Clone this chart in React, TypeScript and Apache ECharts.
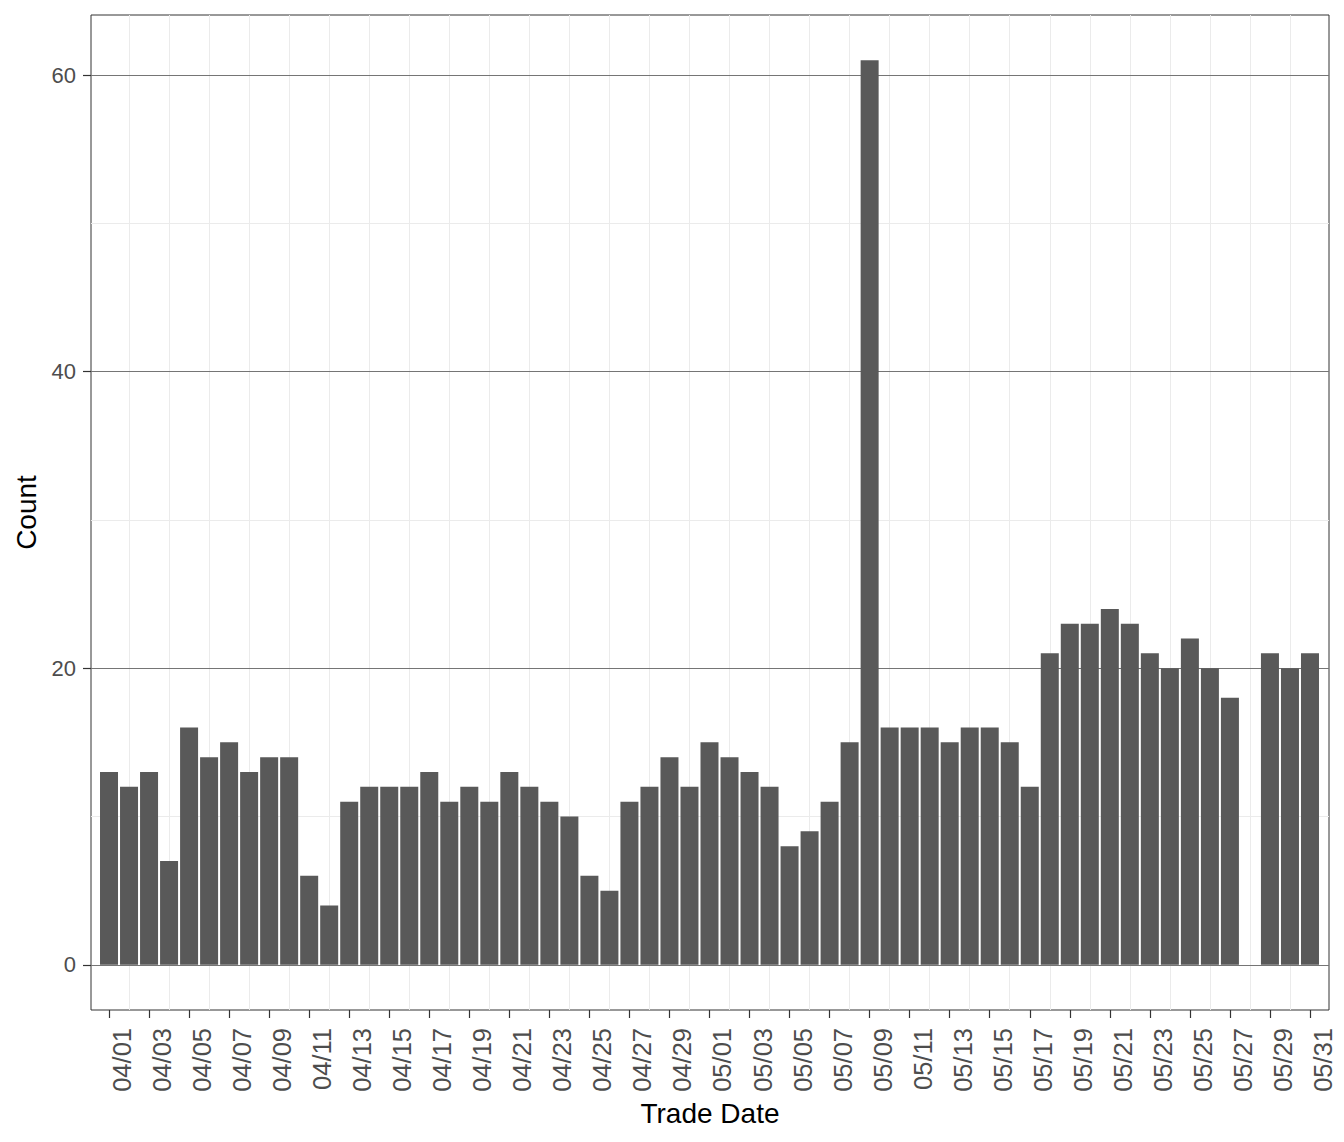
import React, { useRef, useEffect } from 'react';
import * as echarts from 'echarts';

// trade dates, 04/01 .. 05/31
const tradeDates = [
  '04/01', '04/02', '04/03', '04/04', '04/05', '04/06', '04/07', '04/08', '04/09', '04/10',
  '04/11', '04/12', '04/13', '04/14', '04/15', '04/16', '04/17', '04/18', '04/19', '04/20',
  '04/21', '04/22', '04/23', '04/24', '04/25', '04/26', '04/27', '04/28', '04/29', '04/30',
  '05/01', '05/02', '05/03', '05/04', '05/05', '05/06', '05/07', '05/08', '05/09', '05/10',
  '05/11', '05/12', '05/13', '05/14', '05/15', '05/16', '05/17', '05/18', '05/19', '05/20',
  '05/21', '05/22', '05/23', '05/24', '05/25', '05/26', '05/27', '05/28', '05/29', '05/30',
  '05/31',
];

// daily counts (05/28 has no trades)
const counts: (number | null)[] = [
  13, 12, 13, 7, 16, 14, 15, 13, 14, 14,
  6, 4, 11, 12, 12, 12, 13, 11, 12, 11,
  13, 12, 11, 10, 6, 5, 11, 12, 14, 12,
  15, 14, 13, 12, 8, 9, 11, 15, 61, 16,
  16, 16, 15, 16, 16, 15, 12, 21, 23, 23,
  24, 23, 21, 20, 22, 20, 18, null, 21, 20,
  21,
];

const yTicks = [0, 20, 40, 60];
const yMinorTicks = [10, 30, 50];

const FONT = '"Liberation Sans", Arial, Helvetica, sans-serif';

const TradeCountBar: React.FC = () => {
  const chartRef = useRef<HTMLDivElement>(null);

  useEffect(() => {
    if (!chartRef.current) return;
    const chart = echarts.init(chartRef.current, undefined, { renderer: 'svg' });

    const xTicks = tradeDates.map((_, i) => i).filter((i) => i % 2 === 0);
    const xMinor = tradeDates.map((_, i) => i).filter((i) => i % 2 === 1);

    const minorStyle = { color: '#EBEBEB', width: 1, type: 'solid' as const };
    const majorStyle = { color: '#757575', width: 1, type: 'solid' as const };

    // ggplot-like grid: minor lines first, majors on top, all under the bars
    const gridLines = [
      ...xMinor.map((i) => ({ xAxis: i, lineStyle: minorStyle })),
      ...yMinorTicks.map((v) => ({ yAxis: v, lineStyle: minorStyle })),
      ...yTicks.map((v) => ({ yAxis: v, lineStyle: majorStyle })),
    ];

    const option = {
      animation: false,
      textStyle: { fontFamily: FONT },
      grid: {
        left: 91,
        top: 15,
        right: 15,
        bottom: 132,
        show: true,
        borderColor: '#333333',
        borderWidth: 1,
        backgroundColor: '#FFFFFF',
      },
      xAxis: {
        type: 'value',
        min: -0.9,
        max: 60.95,
        name: 'Trade Date',
        nameLocation: 'middle',
        nameGap: 82,
        nameTextStyle: { fontFamily: FONT, fontSize: 28, color: '#000000' },
        axisLine: { show: false, onZero: false },
        axisTick: {
          show: true,
          length: 8,
          customValues: xTicks,
          lineStyle: { color: '#333333', width: 1.2 },
        },
        axisLabel: {
          customValues: xTicks,
          rotate: 90,
          margin: 18,
          verticalAlign: 'top',
          fontFamily: FONT,
          fontSize: 25.5,
          color: '#4D4D4D',
          formatter: (v: number) => tradeDates[Math.round(v)] ?? '',
        },
        splitLine: { show: false },
      },
      yAxis: {
        type: 'value',
        min: -3.05,
        max: 64.05,
        name: 'Count',
        nameLocation: 'middle',
        nameGap: 48,
        nameTextStyle: { fontFamily: FONT, fontSize: 28, color: '#000000' },
        axisLine: { show: false, onZero: false },
        axisTick: {
          show: true,
          length: 8,
          customValues: yTicks,
          lineStyle: { color: '#333333', width: 1.2 },
        },
        axisLabel: {
          customValues: yTicks,
          margin: 15,
          fontFamily: FONT,
          fontSize: 22,
          color: '#4D4D4D',
        },
        splitLine: { show: false },
      },
      series: [
        {
          name: 'Count',
          type: 'bar',
          barWidth: 18,
          z: 2,
          itemStyle: { color: '#595959' },
          data: counts.map((c, i) => (c === null ? [i, '-'] : [i, c])),
          markLine: {
            z: 1,
            silent: true,
            symbol: ['none', 'none'],
            label: { show: false },
            animation: false,
            data: gridLines,
          },
        },
      ],
    };
    chart.setOption(option);

    const resize = () => chart.resize();
    window.addEventListener('resize', resize);
    return () => {
      window.removeEventListener('resize', resize);
      chart.dispose();
    };
  }, []);

  return (
    <div
      ref={chartRef}
      style={{ position: 'absolute', left: 0, top: 0, width: 1344, height: 1142 }}
    />
  );
};

export default function App() {
  return <TradeCountBar />;
}
